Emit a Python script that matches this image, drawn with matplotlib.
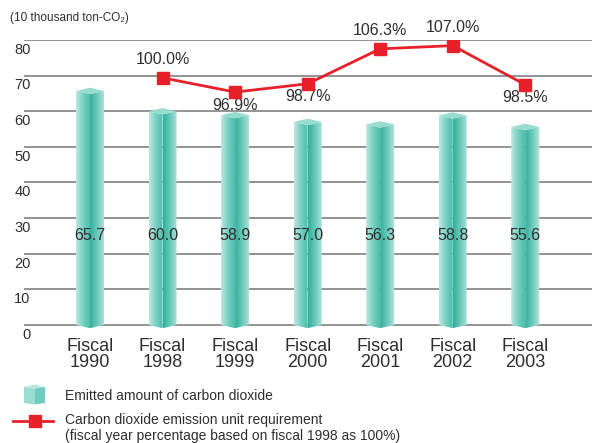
import numpy as np
import matplotlib.pyplot as plt
from matplotlib.patches import Polygon
from matplotlib.colors import LinearSegmentedColormap

plt.rcParams['font.family'] = ['Liberation Sans', 'DejaVu Sans']

# data
years = ['1990', '1998', '1999', '2000', '2001', '2002', '2003']
emissions = [65.7, 60.0, 58.9, 57.0, 56.3, 58.8, 55.6]
ratio_years = ['1998', '1999', '2000', '2001', '2002', '2003']
ratios = [100.0, 96.9, 98.7, 106.3, 107.0, 98.5]
ratio_label_side = ['above', 'below', 'below', 'above', 'above', 'below']
y_ticks = [0, 10, 20, 30, 40, 50, 60, 70, 80]

W, H = 594, 443
fig = plt.figure(figsize=(W / 100, H / 100), dpi=100)

# axes placed in pixel terms
left_px, right_px, top_px, bot_px = 24, 592, 40, 332.1
ax = fig.add_axes([left_px / W, 1 - bot_px / H, (right_px - left_px) / W, (bot_px - top_px) / H])
ax.set_xlim(-0.91, 6.92)
ax.set_ylim(-2, 80)
for s in ax.spines.values():
    s.set_visible(False)
ax.set_xticks([])
ax.set_yticks([])

text_col = '#2e2e2e'
for t in y_ticks:
    ax.axhline(t, color='#8a8a8a', lw=1.3, zorder=1)
    ax.annotate(str(t), (-0.82, t), xytext=(0, -2), textcoords='offset points',
                ha='right', va='top', fontsize=10.5, color=text_col)

# prism-like bars
left_cmap = LinearSegmentedColormap.from_list('lf', ['#bde8e0', '#74cfc1', '#45bca9'])
right_cmap = LinearSegmentedColormap.from_list('rf', ['#34ae9b', '#6ccabb', '#b6e4dc'])
grad = np.linspace(0, 1, 64).reshape(1, -1)
bw = 0.386
dd = 0.9
x = np.arange(len(years))
for xi, h in zip(x, emissions):
    xl, xc, xr = xi - bw / 2, xi, xi + bw / 2
    lp = Polygon([(xl, 0), (xc, -dd), (xc, h - dd), (xl, h)], closed=True,
                 facecolor='none', edgecolor='none', transform=ax.transData)
    rp = Polygon([(xc, -dd), (xr, 0), (xr, h), (xc, h - dd)], closed=True,
                 facecolor='none', edgecolor='none', transform=ax.transData)
    ax.add_patch(lp)
    ax.add_patch(rp)
    im1 = ax.imshow(grad, extent=[xl, xc, -dd, h + dd], aspect='auto', cmap=left_cmap, zorder=3)
    im1.set_clip_path(lp)
    im2 = ax.imshow(grad, extent=[xc, xr, -dd, h + dd], aspect='auto', cmap=right_cmap, zorder=3)
    im2.set_clip_path(rp)
    cap = Polygon([(xl, h), (xc, h + dd), (xr, h), (xc, h - dd)], closed=True,
                  facecolor='#98dbcf', edgecolor='none', zorder=4)
    ax.add_patch(cap)
    ax.text(xi, 25, f'{h:.1f}', ha='center', va='center', fontsize=11.5, color=text_col, zorder=5)
    ax.text(xi, -3.6, 'Fiscal\n' + years[xi], ha='center', va='top', fontsize=13,
            color=text_col, linespacing=0.95)

ax.set_xlim(-0.91, 6.92)
ax.set_ylim(-2, 80)

# ratio line on its own scale
ax2 = ax.twinx()
ax2.set_ylim(44.72, 108.22)
ax2.set_xlim(-0.91, 6.92)
for s in ax2.spines.values():
    s.set_visible(False)
ax2.set_yticks([])
rx = [years.index(y) for y in ratio_years]
ax2.plot(rx, ratios, color='#e8202a', lw=2.0, marker='s', markersize=8,
         markerfacecolor='#e8202a', markeredgecolor='#e8202a', zorder=6)
for xi, v, side in zip(rx, ratios, ratio_label_side):
    off = 8 if side == 'above' else -4
    ax2.annotate(f'{v:.1f}%', (xi, v), xytext=(0, off), textcoords='offset points',
                 ha='center', va='bottom' if side == 'above' else 'top',
                 fontsize=11.5, color=text_col)

# unit label and legend
ov = fig.add_axes([0, 0, 1, 1])
ov.set_xlim(0, W)
ov.set_ylim(H, 0)
ov.axis('off')
ov.text(10, 18, '(10 thousand ton-CO₂)', ha='left', va='center', fontsize=8.5, color=text_col)

# legend cube icon
lx0, lx1, ly0, ly1 = 24, 45, 387, 403
lxc = (lx0 + lx1) / 2
lf = Polygon([(lx0, ly1), (lxc, ly1 + 1.5), (lxc, ly0 + 1.5), (lx0, ly0)], closed=True,
             facecolor='#9ddcd1', edgecolor='none')
rf = Polygon([(lxc, ly1 + 1.5), (lx1, ly1), (lx1, ly0), (lxc, ly0 + 1.5)], closed=True,
             facecolor='#6fcbbd', edgecolor='none')
tf = Polygon([(lx0, ly0), (lxc, ly0 - 2.5), (lx1, ly0), (lxc, ly0 + 1.5)], closed=True,
             facecolor='#b8e7df', edgecolor='none')
for p in (lf, rf, tf):
    ov.add_patch(p)
ov.plot([13, 53], [421, 421], color='#e8202a', lw=2.0)
ov.plot([35], [421], marker='s', markersize=8, color='#e8202a')
ov.text(65, 396, 'Emitted amount of carbon dioxide', ha='left', va='center',
        fontsize=10, color=text_col)
ov.text(65, 420, 'Carbon dioxide emission unit requirement', ha='left', va='center',
        fontsize=10, color=text_col)
ov.text(65, 436, '(fiscal year percentage based on fiscal 1998 as 100%)', ha='left',
        va='center', fontsize=10, color=text_col)

fig.savefig('out.png', dpi=100)
